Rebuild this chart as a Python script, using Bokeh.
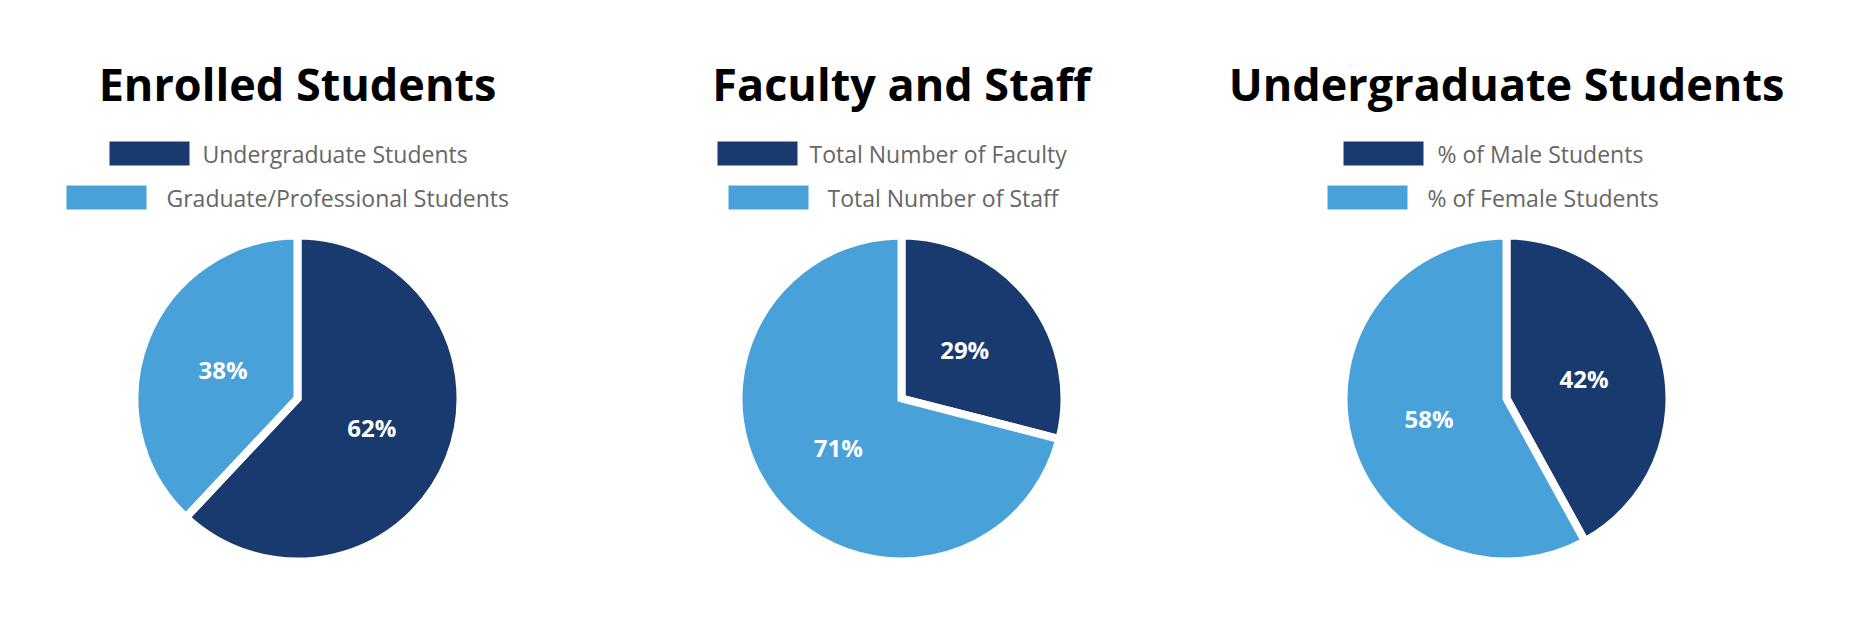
import math
from bokeh.plotting import figure
from bokeh.models import Range1d, ColumnDataSource
from bokeh.core.properties import value
from bokeh.embed import file_html
from bokeh.resources import INLINE

W, H = 1850, 618

# ---- data ----
titles = ["Enrolled Students", "Faculty and Staff", "Undergraduate Students"]
enrolled_labels = ["Undergraduate Students", "Graduate/Professional Students"]
enrolled_values = [62, 38]
faculty_labels = ["Total Number of Faculty", "Total Number of Staff"]
faculty_values = [29, 71]
gender_labels = ["% of Male Students", "% of Female Students"]
gender_values = [42, 58]

DARK = "#183A6F"
LIGHT = "#49A1DA"
colors = [DARK, LIGHT]

panels = [
    (titles[0], enrolled_labels, enrolled_values),
    (titles[1], faculty_labels, faculty_values),
    (titles[2], gender_labels, gender_values),
]

# ---- layout (screen px, y measured from top) ----
pie_cx = [297, 901, 1506]
title_mid = 83
pie_cy = 398
pie_r = 163
label_r = 80
legend_rows_y = [153, 197]
legend_box_w = 80
legend_box_h = 24
legend_boxes = [  # (box_left, text_x) per row
    [(109, 202), (66, 166)],
    [(717, 809), (728, 827)],
    [(1343, 1437), (1327, 1427)],
]

def Y(v):
    return H - v

p = figure(width=W, height=H, output_backend="svg", toolbar_location=None,
           x_range=Range1d(0, W), y_range=Range1d(0, H),
           min_border=0, min_border_left=0, min_border_right=0,
           min_border_top=0, min_border_bottom=0)
p.axis.visible = False
p.grid.visible = False
p.outline_line_color = None
p.background_fill_color = "white"
p.border_fill_color = "white"

for i, (title, labels, vals) in enumerate(panels):
    # title
    p.text(x=[pie_cx[i]], y=[Y(title_mid)], text=[title],
           text_font=value("Open Sans"), text_font_style="bold",
           text_font_size="45px", text_color="#000000",
           text_align="center", text_baseline="middle")
    # legend
    for j, lab in enumerate(labels):
        bl, tx = legend_boxes[i][j]
        cy = legend_rows_y[j]
        p.rect(x=[bl + legend_box_w / 2], y=[Y(cy)], width=legend_box_w,
               height=legend_box_h, fill_color=colors[j], line_color=None)
        p.text(x=[tx], y=[Y(cy)], text=[lab],
               text_font=value("Open Sans"), text_font_size="23px",
               text_color="#666666", text_align="left", text_baseline="middle")
    # pie
    total = float(sum(vals))
    starts, ends, lx, ly, ltxt = [], [], [], [], []
    cum = 0.0
    for v in vals:
        a0 = cum / total
        a1 = (cum + v) / total
        starts.append(math.pi / 2 - 2 * math.pi * a0)
        ends.append(math.pi / 2 - 2 * math.pi * a1)
        mid = (a0 + a1) / 2
        ang = math.pi / 2 - 2 * math.pi * mid
        lx.append(pie_cx[i] + label_r * math.cos(ang))
        ly.append(Y(pie_cy) + label_r * math.sin(ang))
        ltxt.append(f"{v}%")
        cum += v
    src = ColumnDataSource(dict(x=[pie_cx[i]] * len(vals), y=[Y(pie_cy)] * len(vals),
                                start=starts, end=ends, color=colors[:len(vals)]))
    p.wedge(x="x", y="y", radius=pie_r, radius_units="screen",
            start_angle="start", end_angle="end", direction="clock",
            fill_color="color", line_color="white", line_width=8,
            line_join="miter", source=src)
    p.text(x=lx, y=ly, text=ltxt, text_font=value("Open Sans"),
           text_font_style="bold", text_font_size="24px", text_color="white",
           text_align="center", text_baseline="middle")

open("out.html", "w").write(file_html(p, INLINE))
